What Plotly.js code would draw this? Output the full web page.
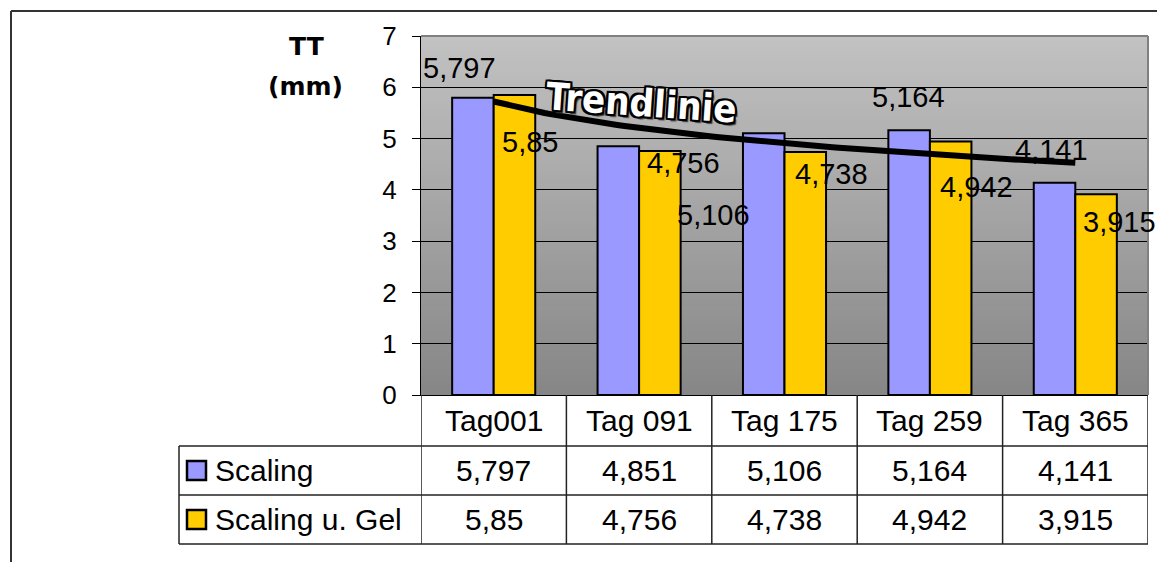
<!DOCTYPE html>
<html>
<head>
<meta charset="utf-8">
<script src="https://cdn.plot.ly/plotly-3.0.1.min.js"></script>
<style>
  html, body { margin: 0; padding: 0; background: #ffffff; }
  #chart { width: 1157px; height: 562px; }
</style>
</head>
<body>
<div id="chart"></div>
<script>
// ---- data ----
const categories = ['Tag001', 'Tag 091', 'Tag 175', 'Tag 259', 'Tag 365'];
const scaling    = [5.797, 4.851, 5.106, 5.164, 4.141];
const scalingGel = [5.85, 4.756, 4.738, 4.942, 3.915];
const seriesNames = ['Scaling', 'Scaling u. Gel'];
const yTicks = [0, 1, 2, 3, 4, 5, 6, 7];

// ---- styling ----
const colors = ['#9999FF', '#FFCC00'];
const FONT = 'Liberation Sans, Arial, sans-serif';
const W = 1157, H = 562;
const M = { l: 421, r: 9, t: 36, b: 167 };
const plotW = W - M.l - M.r;
const plotH = H - M.t - M.b;
const px = x => (x - M.l) / plotW;          // pixel -> paper x
const py = y => (H - M.b - y) / plotH;      // pixel -> paper y
const barOffset = 0.143;                    // half a bar, in category units

// Label nudges (pixels) from each bar's top centre; null = label hidden
const labelNudge = [
  [[-13, 30], null, [-50, -82], [-1, 33], [-3, 33]],
  [[16, -47], [24, -12], [26, -22], [26, -45], [23, -28]]
];

const fmt = v => String(v).replace('.', ',');
const xIdx = categories.map((_, i) => i);

// ---- traces ----
const traces = [scaling, scalingGel].map((vals, s) => ({
  type: 'bar',
  name: seriesNames[s],
  x: xIdx,
  y: vals,
  marker: { color: colors[s], line: { color: '#000000', width: 2 } },
  hoverinfo: 'skip'
}));

// Logarithmic trend fitted to the "Scaling" series (y = a + b ln x, x = 1..n)
const lx = scaling.map((_, i) => Math.log(i + 1));
const mx = lx.reduce((a, b) => a + b, 0) / lx.length;
const my = scaling.reduce((a, b) => a + b, 0) / scaling.length;
let sxy = 0, sxx = 0;
lx.forEach((v, i) => { sxy += (v - mx) * (scaling[i] - my); sxx += (v - mx) * (v - mx); });
const slope = sxy / sxx, icpt = my - slope * mx;
const trendX = [], trendY = [];
for (let k = 0; k <= 80; k++) {
  const t = 4 * k / 80;
  trendX.push(t);
  trendY.push(icpt + slope * Math.log(t + 1));
}
traces.push({
  type: 'scatter', mode: 'lines', x: trendX, y: trendY,
  line: { color: '#000000', width: 6 }, hoverinfo: 'skip', showlegend: false
});

// ---- shapes ----
const shapes = [];
// grey gradient plot background
const N = 72;
for (let k = 0; k < N; k++) {
  const c = Math.round(134 + (194 - 134) * (k + 0.5) / N);
  shapes.push({
    type: 'rect', xref: 'x domain', yref: 'y domain', layer: 'below',
    x0: 0, x1: 1, y0: k / N, y1: Math.min(1, (k + 1) / N + 0.003),
    fillcolor: `rgb(${c},${c},${c})`, line: { width: 0 }
  });
}
// grey plot-area border on top and right
shapes.push({ type: 'line', xref: 'x domain', yref: 'y domain', x0: 0, x1: 1, y0: 1, y1: 1, line: { color: '#808080', width: 2 } });
shapes.push({ type: 'line', xref: 'x domain', yref: 'y domain', x0: 1, x1: 1, y0: 0, y1: 1, line: { color: '#808080', width: 2 } });

// chart frame (top and left edges)
shapes.push({ type: 'line', xref: 'paper', yref: 'paper', x0: px(11), x1: px(W + 10), y0: py(11), y1: py(11), line: { color: '#333333', width: 2 } });
shapes.push({ type: 'line', xref: 'paper', yref: 'paper', x0: px(11), x1: px(11), y0: py(11), y1: py(H + 10), line: { color: '#333333', width: 2 } });

// data table grid
const tblTop = 395, rowLines = [446, 495, 544], tblLeft = 179, tblRight = W - M.r;
const lineStyle = { color: '#222222', width: 1.5 };
for (let i = 0; i <= categories.length; i++) {
  shapes.push({ type: 'line', xref: 'x', yref: 'paper', x0: i - 0.5, x1: i - 0.5, y0: py(tblTop), y1: py(rowLines[2]), line: lineStyle });
}
rowLines.forEach(r => shapes.push({ type: 'line', xref: 'paper', yref: 'paper', x0: px(tblLeft), x1: px(tblRight), y0: py(r), y1: py(r), line: lineStyle }));
shapes.push({ type: 'line', xref: 'paper', yref: 'paper', x0: px(tblLeft), x1: px(tblLeft), y0: py(rowLines[0]), y1: py(rowLines[2]), line: lineStyle });

// legend keys in the table
const rowCentres = [470.5, 519.5];
rowCentres.forEach((c, s) => shapes.push({
  type: 'rect', xref: 'paper', yref: 'paper',
  x0: px(187), x1: px(206), y0: py(c + 9.5), y1: py(c - 9.5),
  fillcolor: colors[s], line: { color: '#000000', width: 2.5 }
}));

// ---- annotations ----
const annotations = [];
const txt = (size, extra) => Object.assign({ family: FONT, size: size, color: '#000000' }, extra || {});

// data labels
[scaling, scalingGel].forEach((vals, s) => {
  vals.forEach((v, i) => {
    const n = labelNudge[s][i];
    if (!n) return;
    annotations.push({
      x: i + (s === 0 ? -barOffset : barOffset), y: v, xref: 'x', yref: 'y',
      text: fmt(v), showarrow: false, xanchor: 'center', yanchor: 'middle',
      xshift: n[0], yshift: n[1], font: txt(29)
    });
  });
});

// table: category header row
categories.forEach((c, i) => annotations.push({
  x: i, y: py(420), xref: 'x', yref: 'paper', text: c, showarrow: false,
  xanchor: 'center', yanchor: 'middle', font: txt(30)
}));
// table: value rows and series names
[scaling, scalingGel].forEach((vals, s) => {
  annotations.push({
    x: px(213), y: py(rowCentres[s]), xref: 'paper', yref: 'paper', text: seriesNames[s],
    showarrow: false, xanchor: 'left', yanchor: 'middle', font: txt(30)
  });
  vals.forEach((v, i) => annotations.push({
    x: i, y: py(rowCentres[s]), xref: 'x', yref: 'paper', text: fmt(v),
    showarrow: false, xanchor: 'center', yanchor: 'middle', font: txt(30)
  }));
});

// axis title
const titleFont = { family: 'DejaVu Sans, sans-serif', size: 25, weight: 'bold', color: '#000000' };
annotations.push({ x: px(306), y: py(46), xref: 'paper', yref: 'paper', text: 'TT', showarrow: false,
  xanchor: 'center', yanchor: 'middle', font: titleFont });
annotations.push({ x: px(305), y: py(86), xref: 'paper', yref: 'paper', text: '(mm)', showarrow: false,
  xanchor: 'center', yanchor: 'middle', font: titleFont });

// trendline caption (outlined word-art style)
const o = '#000000';
annotations.push({
  x: px(641), y: py(103), xref: 'paper', yref: 'paper', text: 'Trendlinie', showarrow: false,
  xanchor: 'center', yanchor: 'middle', textangle: 4,
  font: {
    family: 'DejaVu Sans Condensed, DejaVu Sans, sans-serif', size: 38, weight: 'bold', color: '#ffffff',
    shadow: `2px 0 0 ${o}, -2px 0 0 ${o}, 0 2px 0 ${o}, 0 -2px 0 ${o}, 2px 2px 0 ${o}, -2px -2px 0 ${o}, 2px -2px 0 ${o}, -2px 2px 0 ${o}, 3px 3px 1px #444444`
  }
});

// ---- layout ----
const layout = {
  width: W, height: H,
  margin: M,
  paper_bgcolor: '#ffffff',
  plot_bgcolor: 'rgba(0,0,0,0)',
  showlegend: false,
  barmode: 'group',
  bargap: 0.4286,
  bargroupgap: 0,
  font: { family: FONT, color: '#000000' },
  xaxis: {
    range: [-0.5, 4.5], showticklabels: false, showgrid: false, zeroline: false,
    showline: true, linecolor: '#000000', linewidth: 1, ticks: '', fixedrange: true
  },
  yaxis: {
    range: [0, 7], tickvals: yTicks, ticktext: yTicks.map(String),
    ticks: 'outside', ticklen: 8, tickcolor: '#000000', tickwidth: 1,
    ticklabelstandoff: 10,
    tickfont: { family: FONT, size: 26, color: '#000000' },
    showgrid: true, gridcolor: '#000000', gridwidth: 1,
    showline: true, linecolor: '#000000', linewidth: 1, zeroline: false, fixedrange: true
  },
  shapes: shapes,
  annotations: annotations
};

Plotly.newPlot('chart', traces, layout, { staticPlot: true, displayModeBar: false });
</script>
</body>
</html>
